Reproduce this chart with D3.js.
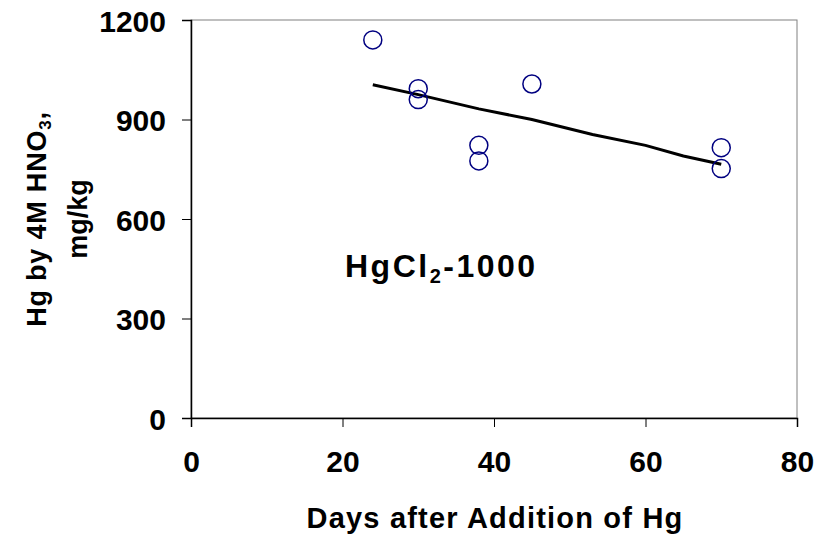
<!DOCTYPE html>
<html><head><meta charset="utf-8">
<script src="https://cdn.jsdelivr.net/npm/d3@7"></script>
<style>
body{margin:0;background:#fff;font-family:Arial,"Liberation Sans",sans-serif;}
text{font-family:Arial,"Liberation Sans",sans-serif;font-weight:bold;}
</style></head><body>
<div id="chart"></div>
<script>
// Observed points (days, mg/kg)
const days = [24, 30, 30, 38, 38, 45, 70, 70];
const hg = [1140, 993, 960, 822, 775, 1007, 815, 752];
// Trend line
const trendDays = [24, 30, 38, 45, 53, 60, 65, 70];
const trendHg = [1005, 975, 932, 900, 855, 822, 790, 765];
const xTicks = [0, 20, 40, 60, 80];
const yTicks = [0, 300, 600, 900, 1200];

const svg = d3.select("#chart").append("svg").attr("width", 830).attr("height", 536);

const x = d3.scaleLinear().domain([0, 80]).range([191, 797]);
const y = d3.scaleLinear().domain([0, 1200]).range([418, 20]);

// Plot frame (gray top/right)
svg.append("rect").attr("x", 191).attr("y", 20).attr("width", 606).attr("height", 398)
  .attr("fill", "none").attr("stroke", "#808080").attr("stroke-width", 1);

const xAxis = svg.append("g").attr("transform", "translate(0,418)")
  .call(d3.axisBottom(x).tickValues(xTicks).tickSize(9).tickFormat(d3.format("d")));
const yAxis = svg.append("g").attr("transform", "translate(191,0)")
  .call(d3.axisLeft(y).tickValues(yTicks).tickSize(9).tickFormat(d3.format("d")));
[xAxis, yAxis].forEach(a => {
  a.attr("font-family", null).attr("font-size", null);
  a.select(".domain").attr("stroke", "#000").attr("stroke-width", 1.5);
  a.selectAll("line").attr("stroke", "#000");
  a.selectAll("text").style("font-size", "30px").attr("fill", "#000");
});
xAxis.selectAll("text").attr("y", 54).attr("dy", 0);
yAxis.selectAll("text").attr("x", -25).attr("dy", "0.38em");

// Trend line
svg.append("path")
  .datum(trendDays.map((d, i) => [d, trendHg[i]]))
  .attr("fill", "none").attr("stroke", "#000").attr("stroke-width", 3)
  .attr("d", d3.line().x(d => x(d[0])).y(d => y(d[1])));

// Points
svg.selectAll("circle.pt").data(days.map((d, i) => [d, hg[i]])).enter()
  .append("circle").attr("class", "pt")
  .attr("cx", d => x(d[0])).attr("cy", d => y(d[1])).attr("r", 9)
  .attr("fill", "none").attr("stroke", "#000080").attr("stroke-width", 1.5);

// Label in plot
const lab = svg.append("text").attr("x", 345).attr("y", 277).style("font-size", "32px")
  .style("letter-spacing", "2.5px").attr("fill", "#000");
lab.append("tspan").text("HgCl");
lab.append("tspan").style("font-size", "20px").attr("dy", 6).text("2");
lab.append("tspan").attr("dy", -6).text("-1000");

// X title
svg.append("text").attr("x", 495).attr("y", 528).attr("text-anchor", "middle")
  .style("font-size", "29px").style("letter-spacing", "1.2px").attr("fill", "#000")
  .text("Days after Addition of Hg");

// Y title (two lines)
const yt = svg.append("text").attr("transform", "translate(46,219) rotate(-90)")
  .attr("text-anchor", "middle").style("font-size", "27px").style("letter-spacing", "0.8px").attr("fill", "#000");
yt.append("tspan").text("Hg by 4M HNO");
yt.append("tspan").style("font-size", "17px").attr("dy", 5).text("3");
yt.append("tspan").attr("dy", -5).text(",");
svg.append("text").attr("transform", "translate(87,219) rotate(-90)")
  .attr("text-anchor", "middle").style("font-size", "27px").attr("fill", "#000").text("mg/kg");
</script></body></html>
